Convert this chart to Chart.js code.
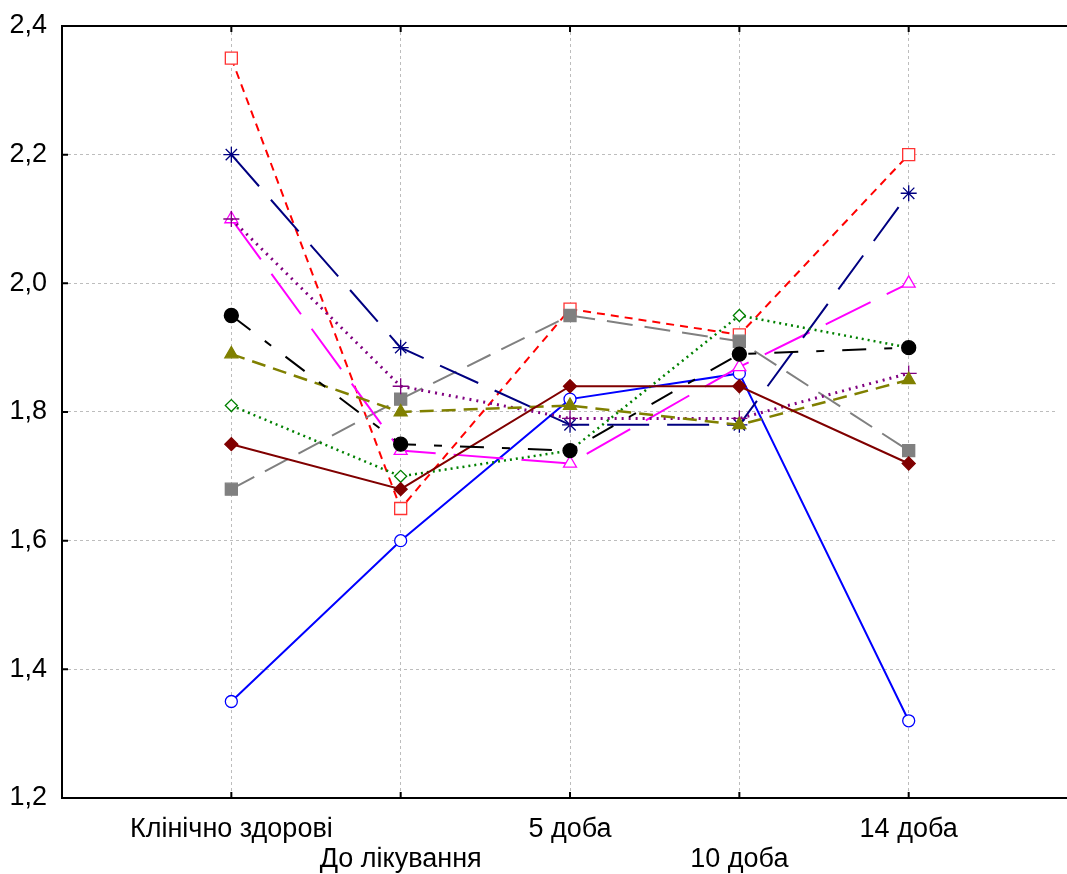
<!DOCTYPE html>
<html>
<head>
<meta charset="utf-8">
<script src="https://cdn.jsdelivr.net/npm/chart.js@4"></script>
<style>
  html, body { margin: 0; padding: 0; background: #fff; overflow: hidden; }
  #wrap { width: 1067px; height: 874px; position: relative; }
</style>
</head>
<body>
<div id="wrap"><canvas id="c" width="1067" height="874"></canvas></div>
<script>
// ---- data ----
const categories = ['Клінічно здорові', 'До лікування', '5 доба', '10 доба', '14 доба'];
const yTicks = [1.2, 1.4, 1.6, 1.8, 2.0, 2.2, 2.4];

const seriesRed     = [2.35, 1.65, 1.96, 1.92, 2.20];
const seriesBlue    = [1.35, 1.60, 1.82, 1.86, 1.32];
const seriesMagenta = [2.10, 1.74, 1.72, 1.87, 2.00];
const seriesNavy    = [2.20, 1.90, 1.78, 1.78, 2.14];
const seriesPurple  = [2.10, 1.84, 1.79, 1.79, 1.86];
const seriesBlack   = [1.95, 1.75, 1.74, 1.89, 1.90];
const seriesOlive   = [1.89, 1.80, 1.81, 1.78, 1.85];
const seriesGreen   = [1.81, 1.70, 1.74, 1.95, 1.90];
const seriesMaroon  = [1.75, 1.68, 1.84, 1.84, 1.72];
const seriesGray    = [1.68, 1.82, 1.95, 1.91, 1.74];

const toPts = arr => arr.map((v, i) => ({ x: i, y: v }));

function ds(values, color, dash, width, pStyle, radius, filled, extra) {
  return Object.assign({
    data: toPts(values),
    borderColor: color,
    borderWidth: width,
    borderDash: dash,
    pointStyle: pStyle,
    pointRadius: radius,
    pointHoverRadius: radius,
    pointBorderColor: color,
    pointBackgroundColor: filled ? color : '#ffffff',
    pointBorderWidth: 1.3,
    tension: 0,
    fill: false
  }, extra || {});
}

// Chart.js paints the first dataset on top
const datasets = [
  ds(seriesBlack,   '#000000', [24, 18, 8, 18], 2, 'circle', 7, true),
  ds(seriesMaroon,  '#800000', [], 2, 'rectRot', 6.5, true),
  ds(seriesOlive,   '#808000', [14, 8], 2.5, 'triangle', 7.5, true),
  ds(seriesGreen,   '#008000', [2, 4], 2.5, 'rectRot', 6, false),
  ds(seriesPurple,  '#800080', [2, 5], 3, 'cross', 8, false),
  ds(seriesNavy,    '#000080', [42, 18], 2, 'star', 8, false),
  ds(seriesMagenta, '#ff00ff', [50, 18], 2, 'triangle', 7.5, false),
  ds(seriesBlue,    '#0000ff', [], 2, 'circle', 6, false),
  ds(seriesGray,    '#808080', [26, 12], 2, 'rect', 8.5, true),
  ds(seriesRed,     '#ff0000', [8, 6], 2, 'rect', 8.5, false, { pointBorderColor: '#ff3333' })
];

const frame = {
  id: 'frame',
  afterDraw(chart) {
    const { ctx, chartArea: a, scales, width } = chart;
    ctx.save();
    ctx.setLineDash([]);
    ctx.strokeStyle = '#000';
    ctx.lineWidth = 2;
    ctx.beginPath();
    ctx.moveTo(a.left, a.top); ctx.lineTo(width, a.top);
    ctx.moveTo(a.left, a.bottom); ctx.lineTo(width, a.bottom);
    ctx.moveTo(a.left, a.top - 1); ctx.lineTo(a.left, a.bottom + 1);
    ctx.stroke();
    ctx.beginPath();
    for (let i = 0; i < categories.length; i++) {
      const x = scales.x.getPixelForValue(i);
      ctx.moveTo(x, a.top); ctx.lineTo(x, a.top + 6);
      ctx.moveTo(x, a.bottom); ctx.lineTo(x, a.bottom - 6);
    }
    yTicks.forEach(v => {
      const y = scales.y.getPixelForValue(v);
      ctx.moveTo(a.left, y); ctx.lineTo(a.left + 6, y);
    });
    ctx.stroke();
    ctx.restore();
  }
};

const FONT = "'Liberation Sans', Arial, sans-serif";

new Chart(document.getElementById('c'), {
  type: 'line',
  data: { datasets },
  options: {
    responsive: false,
    animation: false,
    events: [],
    layout: { padding: { top: 26, right: 0, bottom: 0, left: 0 } },
    plugins: { legend: { display: false }, tooltip: { enabled: false } },
    scales: {
      x: {
        type: 'linear',
        min: -1,
        max: 4.877,
        afterBuildTicks: s => { s.ticks = categories.map((c, i) => ({ value: i })); },
        afterFit: s => { s.height = 76; s.paddingLeft = 0; s.paddingRight = 0; },
        grid: { color: '#bdbdbd', lineWidth: 1, drawTicks: false },
        border: { display: false, dash: [3, 3] },
        ticks: {
          color: '#000',
          padding: 17,
          maxRotation: 0,
          autoSkip: false,
          font: { family: FONT, size: 27, lineHeight: '30px' },
          callback: v => (v % 2 === 1 ? ['', categories[v]] : categories[v])
        }
      },
      y: {
        type: 'linear',
        min: 1.2,
        max: 2.4,
        afterBuildTicks: s => { s.ticks = yTicks.map(v => ({ value: v })); },
        afterFit: s => { s.width = 62; s.paddingTop = 0; s.paddingBottom = 0; },
        grid: { color: '#bdbdbd', lineWidth: 1, drawTicks: false },
        border: { display: false, dash: [3, 3] },
        ticks: {
          color: '#000',
          padding: 15,
          font: { family: FONT, size: 27 },
          callback: v => Number(v).toFixed(1).replace('.', ',')
        }
      }
    }
  },
  plugins: [frame]
});
</script>
</body>
</html>
